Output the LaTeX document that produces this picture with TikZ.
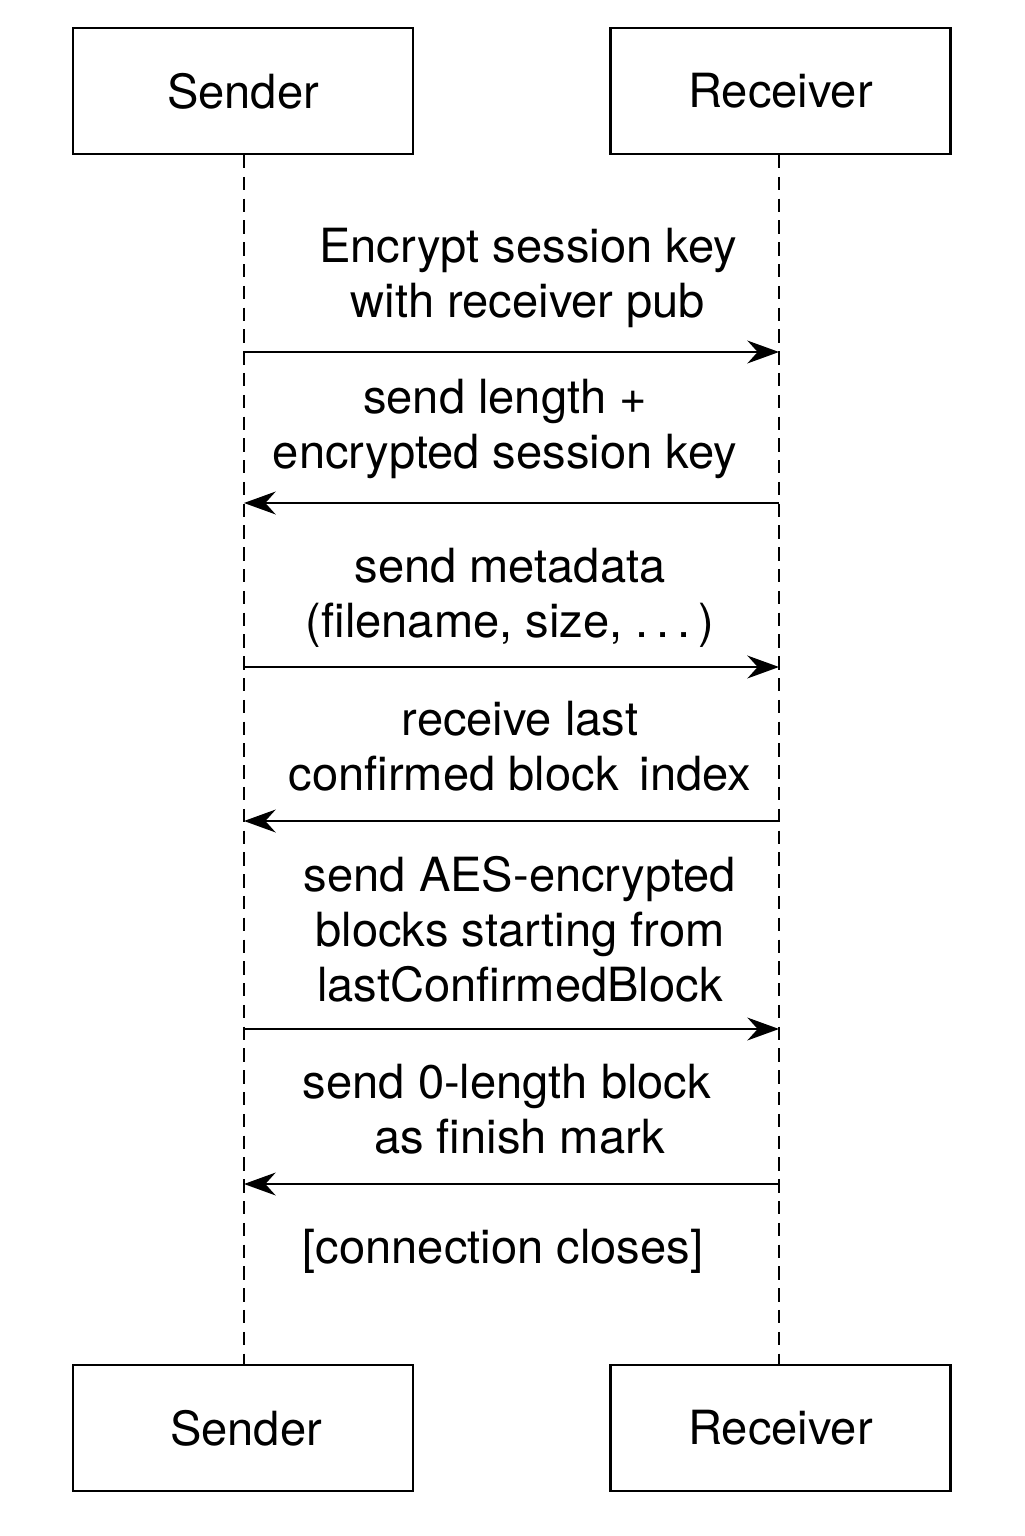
\documentclass[tikz,border=0pt]{standalone}
\usepackage{fontspec}
\setmainfont{TeX Gyre Heros}
\usepackage{tikz}
\usetikzlibrary{arrows.meta, positioning, calc}

\begin{document}
\begin{tikzpicture}[>={Stealth[length=9pt, width=6.5pt]}, font=\fontsize{13.4}{15.6}\selectfont,
  actor/.style={draw, line width=0.6pt, minimum width=3.4cm, minimum height=1.26cm, align=center},
  lifeline/.style={line width=0.8pt, dash pattern=on 3.8pt off 2.4pt},
  msg/.style={->, line width=0.6pt},
  note/.style={align=center},
  ]
  \useasboundingbox (0,0) rectangle (10.24,-15.36);
  % Actors at top and bottom
  \node[actor] (sendtop) at (2.43,-0.91) {Sender};
  \node[actor] (recvtop) at (7.805,-0.91) {Receiver};
  \node[actor] (sendbot) at (2.43,-14.28) {\hspace*{0.06cm}Sender};
  \node[actor] (recvbot) at (7.805,-14.28) {Receiver};

  % Lifelines
  \draw[lifeline] ($(sendtop.south)+(0.01,0)$) coordinate (sl0) -- ($(sendbot.north)+(0.01,0)$) coordinate (sl1);
  \draw[lifeline] ($(recvtop.south)+(-0.015,0)$) coordinate (rl0) -- ($(recvbot.north)+(-0.015,0)$) coordinate (rl1);

  % Message end points
  \coordinate (s1) at (2.44,-3.52);  \coordinate (r1) at (7.79,-3.52);
  \coordinate (s2) at (2.44,-5.03);  \coordinate (r2) at (7.79,-5.03);
  \coordinate (s3) at (2.44,-6.67);  \coordinate (r3) at (7.79,-6.67);
  \coordinate (s4) at (2.44,-8.21);  \coordinate (r4) at (7.79,-8.21);
  \coordinate (s5) at (2.44,-10.29); \coordinate (r5) at (7.79,-10.29);
  \coordinate (s6) at (2.44,-11.84); \coordinate (r6) at (7.79,-11.84);

  % Arrows
  \draw[msg] (s1) -- (r1);
  \draw[msg] (r2) -- (s2);
  \draw[msg] (s3) -- (r3);
  \draw[msg] (r4) -- (s4);
  \draw[msg] (s5) -- (r5);
  \draw[msg] (r6) -- (s6);

  % Labels above arrows
  \node[note] (lab1) at (5.28,-2.78) {Encrypt session key\\with receiver pub};
  \node[note] (lab2) at (5.05,-4.29) {send length +\\encrypted session key};
  \node[note] (lab3) at (5.10,-5.98) {send metadata\\(filename, size, .\,.\,.\,)};
  \node[note] (lab4) at (5.20,-7.46) {receive last\\confirmed block\ \,index};
  \node[note] (lab5) at (5.20,-9.29) {send AES-encrypted\\blocks starting from\\lastConfirmedBlock};
  \node[note] (lab6) at (5.07,-11.09) {send 0-length block\\\hspace*{0.25cm}as finish mark};
  \node[note] (lab7) at (5.03,-12.51) {[connection closes]};
\end{tikzpicture}
\end{document}
